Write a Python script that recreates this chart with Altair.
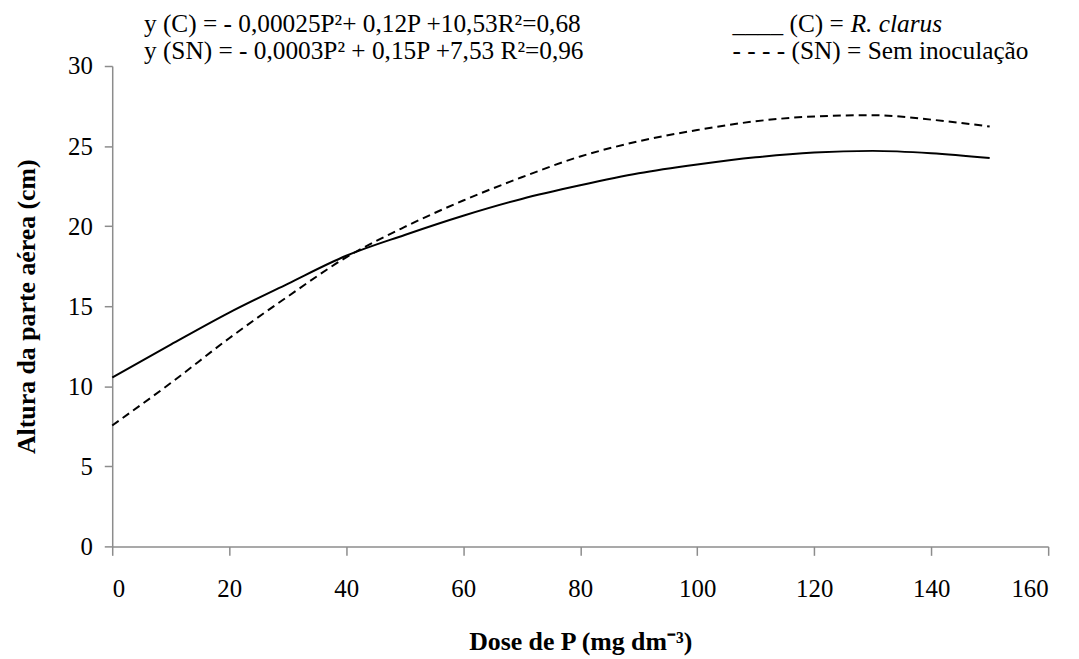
import altair as alt
import pandas as pd

# Dose de P (mg dm-3)
dose = [0, 10, 20, 30, 40, 50, 60, 70, 80, 90, 100, 110, 120, 130, 140, 150]
# (C) = R. clarus  (solid curve)
altura_c = [10.55, 12.6, 14.6, 16.4, 18.15, 19.45, 20.65, 21.7, 22.55, 23.3, 23.85, 24.3, 24.6, 24.7, 24.55, 24.25]
# (SN) = Sem inoculação  (dashed curve)
altura_sn = [7.55, 10.2, 13.0, 15.6, 18.05, 19.95, 21.6, 23.05, 24.35, 25.3, 26.0, 26.55, 26.85, 26.93, 26.65, 26.22]

x_ticks = [0, 20, 40, 60, 80, 100, 120, 140, 160]
y_ticks = [0, 5, 10, 15, 20, 25, 30]

eq_c = "y (C) = - 0,00025P²+ 0,12P +10,53R²=0,68"
eq_sn = "y (SN) = - 0,0003P² + 0,15P +7,53 R²=0,96"
leg_c_a = "____ (C) = "
leg_c_b = "R. clarus"
leg_sn = "- - - - (SN) = Sem inoculação"

df = pd.DataFrame({
    "dose": dose * 2,
    "altura": altura_c + altura_sn,
    "serie": ["C"] * len(dose) + ["SN"] * len(dose),
})

FONT = "Times New Roman, Liberation Serif, serif"

x_enc = alt.X("dose:Q",
              scale=alt.Scale(domain=[0, 160], nice=False),
              axis=alt.Axis(values=x_ticks, title="Dose de P (mg dm⁻³)",
                            titleFontWeight="bold", labelPadding=21,
                            titlePadding=28, tickSize=9))
y_enc = alt.Y("altura:Q",
              scale=alt.Scale(domain=[0, 30], nice=False),
              axis=alt.Axis(values=y_ticks, title="Altura da parte aérea (cm)",
                            titleFontWeight="bold", labelPadding=12,
                            titlePadding=28, tickSize=8))

base = alt.Chart(df)
line_c = base.transform_filter(alt.datum.serie == "C").mark_line(
    color="black", strokeWidth=2, interpolate="monotone"
).encode(x=x_enc, y=y_enc)
line_sn = base.transform_filter(alt.datum.serie == "SN").mark_line(
    color="black", strokeWidth=2, strokeDash=[8, 5], interpolate="monotone"
).encode(x=x_enc, y=y_enc)

def txt(s, x, y, style="normal"):
    return alt.Chart(pd.DataFrame({"t": [s]})).mark_text(
        font=FONT, fontSize=25.5, align="left", baseline="middle",
        fontStyle=style, color="black"
    ).encode(text="t:N", x=alt.value(x), y=alt.value(y))

texts = [
    txt(eq_c, 32, -42.5),
    txt(eq_sn, 32, -15),
    txt(leg_c_a, 625, -42.5),
    txt(leg_c_b, 744, -42.5, "italic"),
    txt(leg_sn, 625, -15),
]

chart = alt.layer(line_c, line_sn, *texts).properties(
    width=943, height=484,
    padding={"left": 105, "top": 56, "right": 23, "bottom": 111},
    autosize=alt.AutoSizeParams(type="none"),
).configure_view(stroke=None).configure_axis(
    grid=False, domainColor="#8c8c8c", tickColor="#8c8c8c",
    domainWidth=1.5, tickWidth=1.5,
    labelFont=FONT, titleFont=FONT, labelFontSize=25, titleFontSize=26,
    labelColor="black", titleColor="black",
)

chart.save("out.html", embed_options={"renderer": "svg", "actions": False})
